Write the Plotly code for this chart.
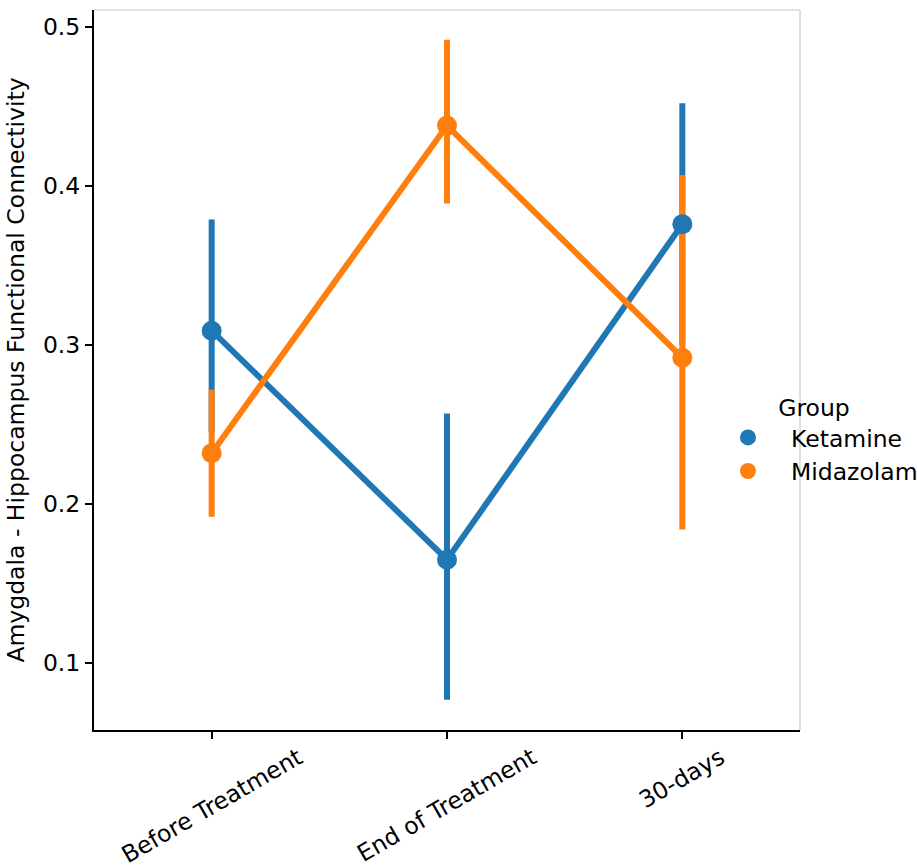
import plotly.graph_objects as go

categories = ["Before Treatment", "End of Treatment", "30-days"]
groups = ["Ketamine", "Midazolam"]

ketamine_mean = [0.309, 0.165, 0.376]
ketamine_ci_low = [0.245, 0.077, 0.300]
ketamine_ci_high = [0.379, 0.257, 0.452]

midazolam_mean = [0.232, 0.438, 0.292]
midazolam_ci_low = [0.192, 0.389, 0.184]
midazolam_ci_high = [0.272, 0.492, 0.407]

colors = {"Ketamine": "#1f77b4", "Midazolam": "#ff7f0e"}
FONT = "DejaVu Sans"
FS = 23.5

series = {
    "Ketamine": (ketamine_mean, ketamine_ci_low, ketamine_ci_high),
    "Midazolam": (midazolam_mean, midazolam_ci_low, midazolam_ci_high),
}

fig = go.Figure()

# lines + error bars first
for g in groups:
    m, lo, hi = series[g]
    fig.add_trace(go.Scatter(
        x=categories, y=m, mode="lines",
        line=dict(color=colors[g], width=6),
        error_y=dict(type="data", symmetric=False,
                     array=[h - v for h, v in zip(hi, m)],
                     arrayminus=[v - l for l, v in zip(lo, m)],
                     color=colors[g], thickness=6, width=0),
        showlegend=False, hoverinfo="skip",
    ))

# markers on top
for g in groups:
    m, lo, hi = series[g]
    fig.add_trace(go.Scatter(
        x=categories, y=m, mode="markers", name=g,
        marker=dict(color=colors[g], size=20, line=dict(width=0)),
    ))

# rotated category labels (centred on ticks, like matplotlib)
for c in categories:
    fig.add_annotation(
        x=c, xref="x", y=0, yref="paper",
        text=c, showarrow=False, textangle=-30,
        xanchor="center", yanchor="top", yshift=-10,
        font=dict(family=FONT, size=FS, color="black"),
    )

# light top / right spines
fig.add_shape(type="line", xref="paper", yref="paper", x0=0, x1=1, y0=1, y1=1,
              line=dict(color="#cccccc", width=1.2))
fig.add_shape(type="line", xref="paper", yref="paper", x0=1, x1=1, y0=0, y1=1,
              line=dict(color="#cccccc", width=1.2))

fig.update_layout(
    width=917, height=865,
    margin=dict(l=94, r=117, t=10, b=135, autoexpand=False),
    paper_bgcolor="white", plot_bgcolor="white",
    font=dict(family=FONT, size=FS, color="black"),
    legend=dict(
        title=dict(text="Group", side="top center", font=dict(size=FS)),
        x=0.8654, y=0.404, xanchor="left", yanchor="middle",
        bgcolor="rgba(0,0,0,0)", font=dict(size=FS),
        itemwidth=76, tracegroupgap=0,
    ),
    xaxis=dict(
        type="category", range=[-0.5, 2.5],
        showline=True, linecolor="black", linewidth=2,
        ticks="outside", ticklen=7, tickwidth=1.5, tickcolor="black",
        showticklabels=False, showgrid=False, zeroline=False,
    ),
    yaxis=dict(
        range=[0.0579, 0.5107],
        tickvals=[0.1, 0.2, 0.3, 0.4, 0.5],
        ticktext=["0.1", "0.2", "0.3", "0.4", "0.5"],
        showline=True, linecolor="black", linewidth=2,
        ticks="outside", ticklen=7, tickwidth=1.5, tickcolor="black",
        showgrid=False, zeroline=False,
        tickfont=dict(size=FS),
        title=dict(text="Amygdala - Hippocampus Functional Connectivity",
                   font=dict(size=FS), standoff=12),
        automargin=False,
    ),
)

fig.write_html("out.html")
